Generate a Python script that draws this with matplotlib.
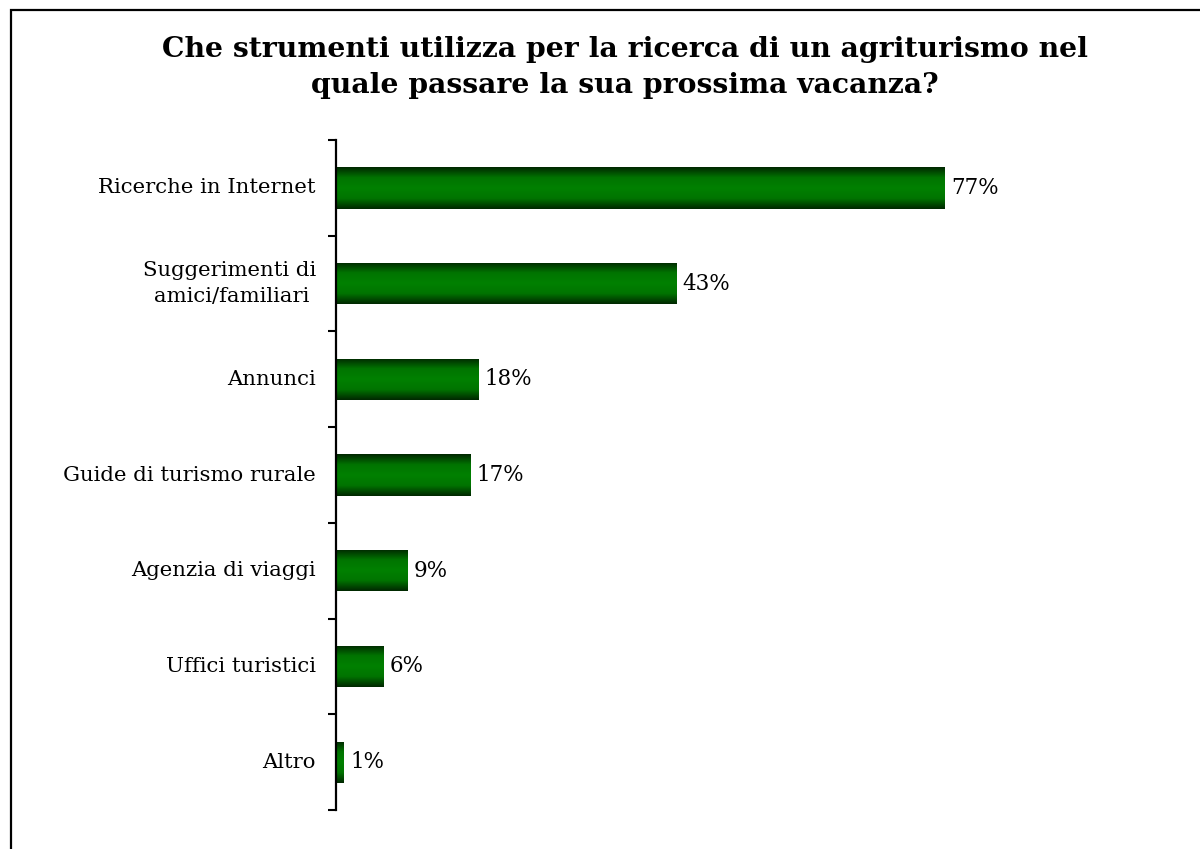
import numpy as np
import matplotlib
matplotlib.use('Agg')
import matplotlib.pyplot as plt
from matplotlib.colors import LinearSegmentedColormap
from matplotlib.patches import Rectangle

categories = ['Ricerche in Internet', 'Suggerimenti di\namici/familiari ', 'Annunci',
              'Guide di turismo rurale', 'Agenzia di viaggi', 'Uffici turistici', 'Altro']
values = [77, 43, 18, 17, 9, 6, 1]
labels = ['77%', '43%', '18%', '17%', '9%', '6%', '1%']

plt.rcParams['font.family'] = ['DejaVu Serif']

fig = plt.figure(figsize=(12, 8.49), dpi=100)
ax = fig.add_axes([0.28, 0.046, 0.659, 0.789])

pos = np.arange(len(categories))
bars = ax.barh(pos, values, height=0.43, color='none', edgecolor='none')

green = LinearSegmentedColormap.from_list('g', ['#002800', '#007400', '#008000', '#007400', '#002800'])
grad = np.linspace(0, 1, 100).reshape(-1, 1)
for b in bars:
    x0, y0 = b.get_x(), b.get_y()
    im = ax.imshow(grad, cmap=green, aspect='auto', interpolation='bilinear',
                   extent=(x0, x0 + b.get_width(), y0, y0 + b.get_height()), zorder=2)
    im.set_clip_path(b)

for p, v, t in zip(pos, values, labels):
    ax.text(v + 0.8, p, t, va='center', ha='left', fontsize=15.5)

# category labels (right aligned, also between lines)
for p, c in zip(pos, categories):
    ax.text(-0.0253, p, c, transform=ax.get_yaxis_transform(), ha='right', va='center',
            multialignment='right', fontsize=15.3, linespacing=1.45)

ax.set_xlim(0, 100)
ax.set_ylim(len(categories) - 0.5, -0.5)

ax.set_yticks(np.arange(len(categories) + 1) - 0.5)
ax.set_yticklabels([])
ax.tick_params(axis='y', which='major', direction='out', length=6, width=1.5)
ax.set_xticks([])

for s in ['top', 'right', 'bottom']:
    ax.spines[s].set_visible(False)
ax.spines['left'].set_linewidth(1.6)

fig.text(0.521, 0.958, 'Che strumenti utilizza per la ricerca di un agriturismo nel\nquale passare la sua prossima vacanza?',
         ha='center', va='top', fontsize=20.3, fontweight='bold', linespacing=1.45)

fig.add_artist(Rectangle((11 / 1200, -0.1), 1.2, (849 - 10) / 849 + 0.1,
                         transform=fig.transFigure, fill=False, lw=1.6, edgecolor='black'))

fig.savefig('out.png', dpi=100, facecolor='white')
